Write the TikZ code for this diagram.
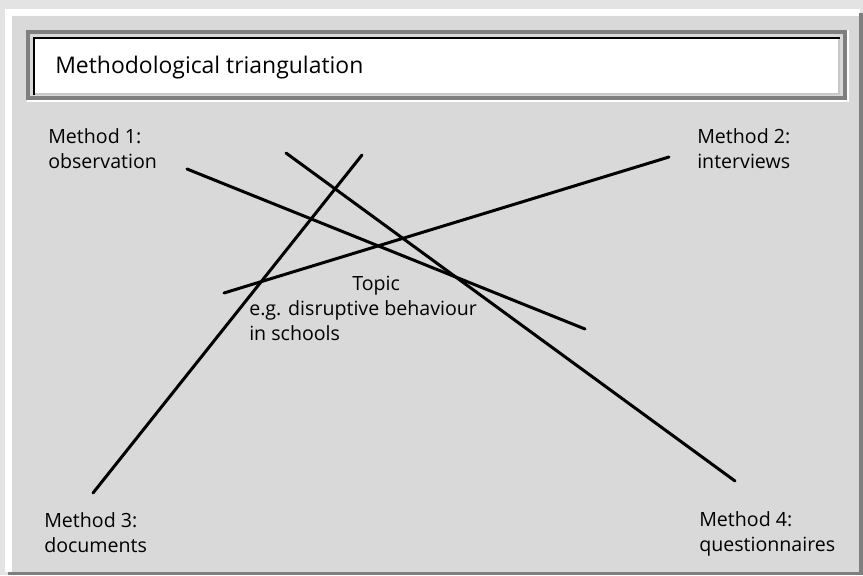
\documentclass[tikz,border=0pt]{standalone}
\usepackage{fontspec}
\setmainfont{Open Sans}
\definecolor{outerbg}{HTML}{E3E3E3}
\definecolor{panel}{HTML}{D9D9D9}
\definecolor{shadow}{HTML}{7F7F7F}
\definecolor{lightedge}{HTML}{C8C8C8}
\tikzset{
  label/.style={anchor=base west, inner sep=0pt, align=left, font=\fontsize{14.7}{18.75}\selectfont},
  titletext/.style={anchor=base west, inner sep=0pt, font=\fontsize{17.2}{20}\selectfont},
  crossline/.style={line width=2.25pt, black, line cap=round}
}
\begin{document}
\begin{tikzpicture}[x=0.75pt,y=-0.75pt]
\useasboundingbox (0,0) rectangle (863,575);
% frame
\fill[outerbg] (0,0) rectangle (863,575);
\fill[white] (5,9) rectangle (860,572);
\fill[panel] (12,16) rectangle (860,572);
\fill[shadow] (859,13) rectangle (863,575);
\fill[shadow] (8,572) rectangle (863,575);
% title box
\draw[white, line width=2pt] (27,101) -- (848,101) -- (848,30);
\draw[shadow, line width=2.5pt] (28,32) rectangle (845,98);
\fill[white] (33,37) rectangle (840,95);
\draw[lightedge, line width=2pt] (33,94) -- (839,94) -- (839,37);
\draw[black, line width=2.2pt] (34,95) -- (34,38) -- (840,38);
\node[titletext] (title) at (55,73.5) {Methodological triangulation};
% labels (base anchor = baseline of the last line)
\node[label] (m1) at (48,168) {Method 1:\\observation};
\node[label] (m2) at (697,168) {Method 2:\\interviews};
\node[label] (m3) at (44,552) {Method 3:\\documents};
\node[label] (m4) at (699,551) {Method 4:\\questionnaires};
\node[label] (topic1) at (352,290) {Topic};
\node[label] (topic2) at (249,340) {e.g. disruptive behaviour\\in schools};
% line ends
\coordinate (a1) at (187,169); \coordinate (b1) at (585,329);
\coordinate (a2) at (224,293); \coordinate (b2) at (669,157);
\coordinate (a3) at (93,493);  \coordinate (b3) at (362,155);
\coordinate (a4) at (286,153); \coordinate (b4) at (735,481);
\draw[crossline] (a1) -- (b1);
\draw[crossline] (a2) -- (b2);
\draw[crossline] (a3) -- (b3);
\draw[crossline] (a4) -- (b4);
\end{tikzpicture}
\end{document}
